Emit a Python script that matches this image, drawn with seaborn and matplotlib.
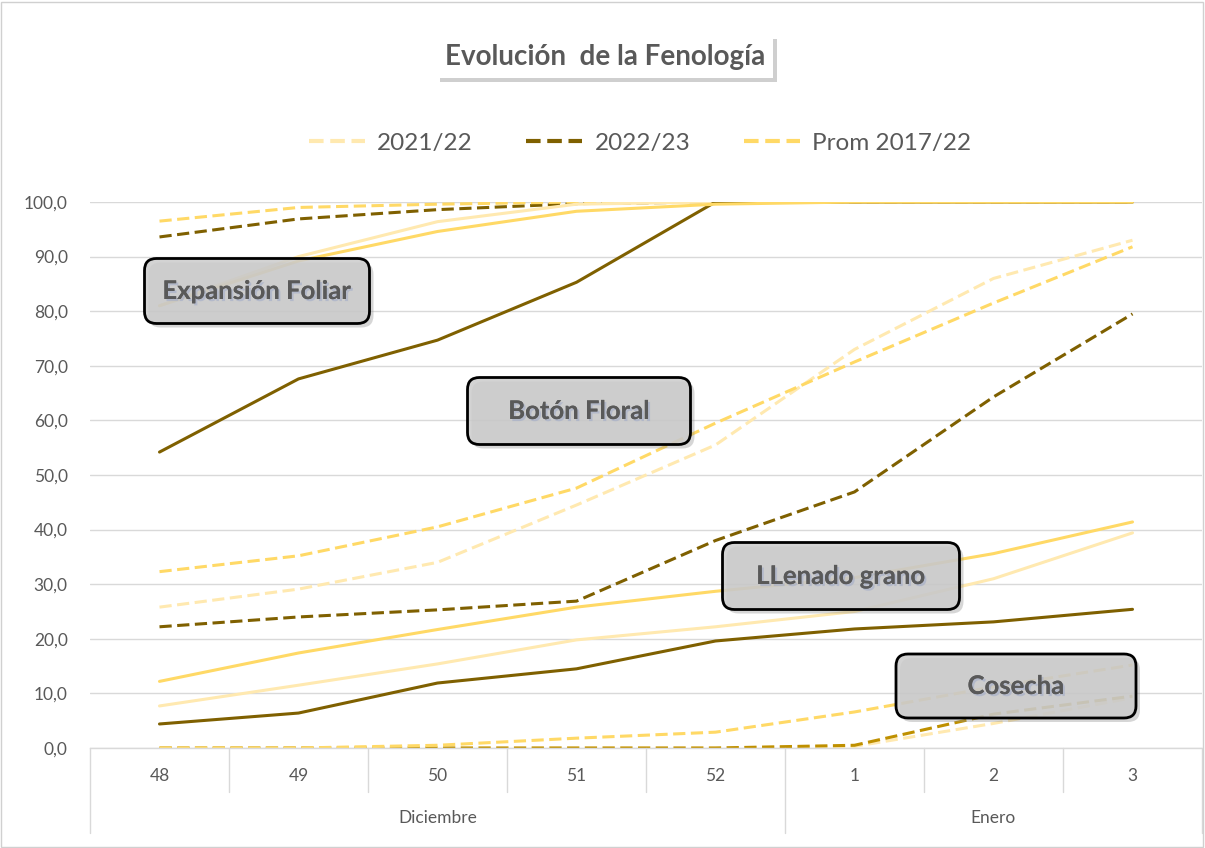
import numpy as np
import pandas as pd
import matplotlib
matplotlib.use("Agg")
import matplotlib.pyplot as plt
import seaborn as sns
from matplotlib import patheffects as pe
from matplotlib.patches import FancyBboxPatch, Rectangle
from matplotlib.lines import Line2D
from matplotlib.ticker import FuncFormatter

# ---------------- data ----------------
semanas = ["48", "49", "50", "51", "52", "1", "2", "3"]
meses = ["Diciembre", "Enero"]
semanas_por_mes = [5, 3]
series = ["2021/22", "2022/23", "Prom 2017/22"]

# upper dashed group (2021/22 not visible)
sup_2223 = [93.6, 96.9, 98.6, 99.7, 100.0, 100.0, 100.0, 100.0]
sup_prom = [96.5, 99.0, 99.6, 100.0, 100.0, 100.0, 100.0, 100.0]
# Expansión Foliar (solid)
ef_2122 = [81.0, 90.0, 96.4, 99.6, 100.0, 100.0, 100.0, 100.0]
ef_2223 = [54.2, 67.6, 74.7, 85.3, 100.0, 100.0, 100.0, 100.0]
ef_prom = [81.0, 89.2, 94.6, 98.3, 99.6, 100.0, 100.0, 100.0]
# Botón Floral (dashed)
bf_2122 = [25.8, 29.1, 34.0, 44.5, 55.5, 73.0, 86.0, 93.0]
bf_2223 = [22.2, 24.0, 25.3, 26.9, 38.0, 46.9, 64.3, 79.5]
bf_prom = [32.3, 35.2, 40.5, 47.6, 59.5, 70.7, 81.5, 91.8]
# LLenado grano (solid)
lg_2122 = [7.7, 11.5, 15.4, 19.8, 22.2, 25.0, 31.0, 39.4]
lg_2223 = [4.4, 6.4, 11.9, 14.5, 19.6, 21.8, 23.1, 25.4]
lg_prom = [12.2, 17.4, 21.7, 25.8, 28.7, 31.2, 35.6, 41.4]
# Cosecha (dashed)
co_2122 = [0.0, 0.0, 0.0, 0.0, 0.0, 0.3, 4.5, 9.2]
co_2223 = [0.0, 0.0, 0.0, 0.0, 0.0, 0.5, 6.2, 9.5]
co_prom = [0.0, 0.0, 0.5, 1.8, 2.9, 6.6, 11.2, 15.2]

etiquetas = ["Expansión Foliar", "Botón Floral", "LLenado grano", "Cosecha"]

# ---------------- styles ----------------
C_LIGHT = "#FFE9B0"
C_DARK = "#7F6000"
C_PROM = "#FFD966"
C_GOLD = "#BF9000"
TXT = "#595959"
DASH = (0, (4, 1.8))

grupos = [
    ([sup_2223, sup_prom], DASH, [C_DARK, C_PROM]),
    ([ef_2122, ef_2223, ef_prom], "-", [C_LIGHT, C_DARK, C_PROM]),
    ([bf_2122, bf_2223, bf_prom], DASH, [C_LIGHT, C_DARK, C_PROM]),
    ([lg_2122, lg_2223, lg_prom], "-", [C_LIGHT, C_DARK, C_PROM]),
    ([co_2122, co_2223, co_prom], DASH, [C_LIGHT, C_GOLD, C_PROM]),
]

sns.set_theme(style="white")
plt.rcParams['font.family'] = ['Lato', 'DejaVu Sans']

W, H = 1205, 848
fig = plt.figure(figsize=(W / 100, H / 100), dpi=100)
ax = fig.add_axes([90 / W, 1 - 748 / H, 1112 / W, 546 / H])

xpos = np.arange(len(semanas))
for vals_list, ls, cols in grupos:
    for vals, col in zip(vals_list, cols):
        df = pd.DataFrame({"semana": xpos, "valor": vals})
        sns.lineplot(data=df, x="semana", y="valor", ax=ax, color=col,
                     linewidth=2.2, linestyle=ls, legend=False)

ax.set_xlim(-0.5, len(semanas) - 0.5)
ax.set_ylim(0, 100)
ax.set_yticks(np.arange(0, 101, 10))
ax.yaxis.set_major_formatter(FuncFormatter(lambda v, p: f"{v:.1f}".replace(".", ",")))
ax.tick_params(axis="y", length=0, pad=16, labelsize=12.5, labelcolor=TXT)
ax.set_xticks([])
ax.set_xlabel("")
ax.set_ylabel("")
ax.grid(axis="y", color="#D9D9D9", linewidth=1)
ax.set_axisbelow(True)
for s in ["left", "right", "top"]:
    ax.spines[s].set_visible(False)
ax.spines["bottom"].set_color("#D9D9D9")
ax.spines["bottom"].set_linewidth(1)

# hierarchical category axis
tr = ax.get_xaxis_transform()
short = -44 / 546
long_ = -85 / 546
bounds = np.arange(len(semanas) + 1) - 0.5
group_edges = np.concatenate([[0], np.cumsum(semanas_por_mes)]) - 0.5
for b in bounds:
    is_group = np.any(np.isclose(group_edges, b))
    ax.plot([b, b], [0, long_ if is_group else short], transform=tr,
            color="#D9D9D9", lw=1, clip_on=False)
for i, s in enumerate(semanas):
    ax.text(i, -28 / 546, s, transform=tr, ha="center", va="center",
            fontsize=12.5, color=TXT)
for j, m in enumerate(meses):
    c = (group_edges[j] + group_edges[j + 1]) / 2
    ax.text(c, -70 / 546, m, transform=tr, ha="center", va="center",
            fontsize=12.5, color=TXT)

# title
t = fig.text(605 / W, 1 - 57 / H, "Evolución  de la Fenología", ha="center", va="center",
             fontsize=20, fontweight="bold", color=TXT,
             bbox=dict(boxstyle="square,pad=0.3", fc="white", ec="none"))
t.get_bbox_patch().set_path_effects([pe.withSimplePatchShadow(offset=(2.5, -2.5),
                                     shadow_rgbFace="#a0a0a0", alpha=0.5)])

# legend
handles = [Line2D([0], [0], color=c, lw=3, linestyle=(0, (3.5, 1.6)))
           for c in [C_LIGHT, C_DARK, C_PROM]]
fig.legend(handles, series, loc="center", bbox_to_anchor=(640 / W, 1 - 143 / H),
           ncol=3, frameon=False, fontsize=17.5, handlelength=2.3,
           columnspacing=2.2, handletextpad=0.5, labelcolor=TXT)

# annotation boxes
cajas = [(257, 291, 225, 65), (579, 411, 223, 67), (841, 576, 237, 67), (1016, 686, 240, 64)]
r = 12 / W
for (cx, cy, w, h), lab in zip(cajas, etiquetas):
    x0, y0 = (cx - w / 2) / W, 1 - (cy + h / 2) / H
    sh = FancyBboxPatch((x0 + 4 / W, y0 - 4 / H), w / W, h / H,
                        boxstyle=f"round,pad=0,rounding_size={r}",
                        mutation_aspect=W / H, transform=fig.transFigure,
                        fc=(0.55, 0.55, 0.55, 0.35), ec="none", zorder=4)
    fig.add_artist(sh)
    p = FancyBboxPatch((x0, y0), w / W, h / H,
                       boxstyle=f"round,pad=0,rounding_size={r}",
                       mutation_aspect=W / H, transform=fig.transFigure,
                       fc=(0.80, 0.80, 0.80, 0.86), ec="black", lw=2.0, zorder=5)
    fig.add_artist(p)
    tx = fig.text(cx / W, 1 - cy / H, lab, ha="center", va="center", fontsize=18.5,
                  fontweight="bold", color=TXT, zorder=6)
    tx.set_path_effects([pe.withSimplePatchShadow(offset=(1.5, -1.5),
                         shadow_rgbFace="#9aa6c8", alpha=0.5), pe.Normal()])

# chart border
fig.add_artist(Rectangle((1 / W, 1 / H), 1 - 3 / W, 1 - 3 / H, transform=fig.transFigure,
                         fill=False, ec="#D0D0D0", lw=1))

fig.savefig("out.png", dpi=100)
